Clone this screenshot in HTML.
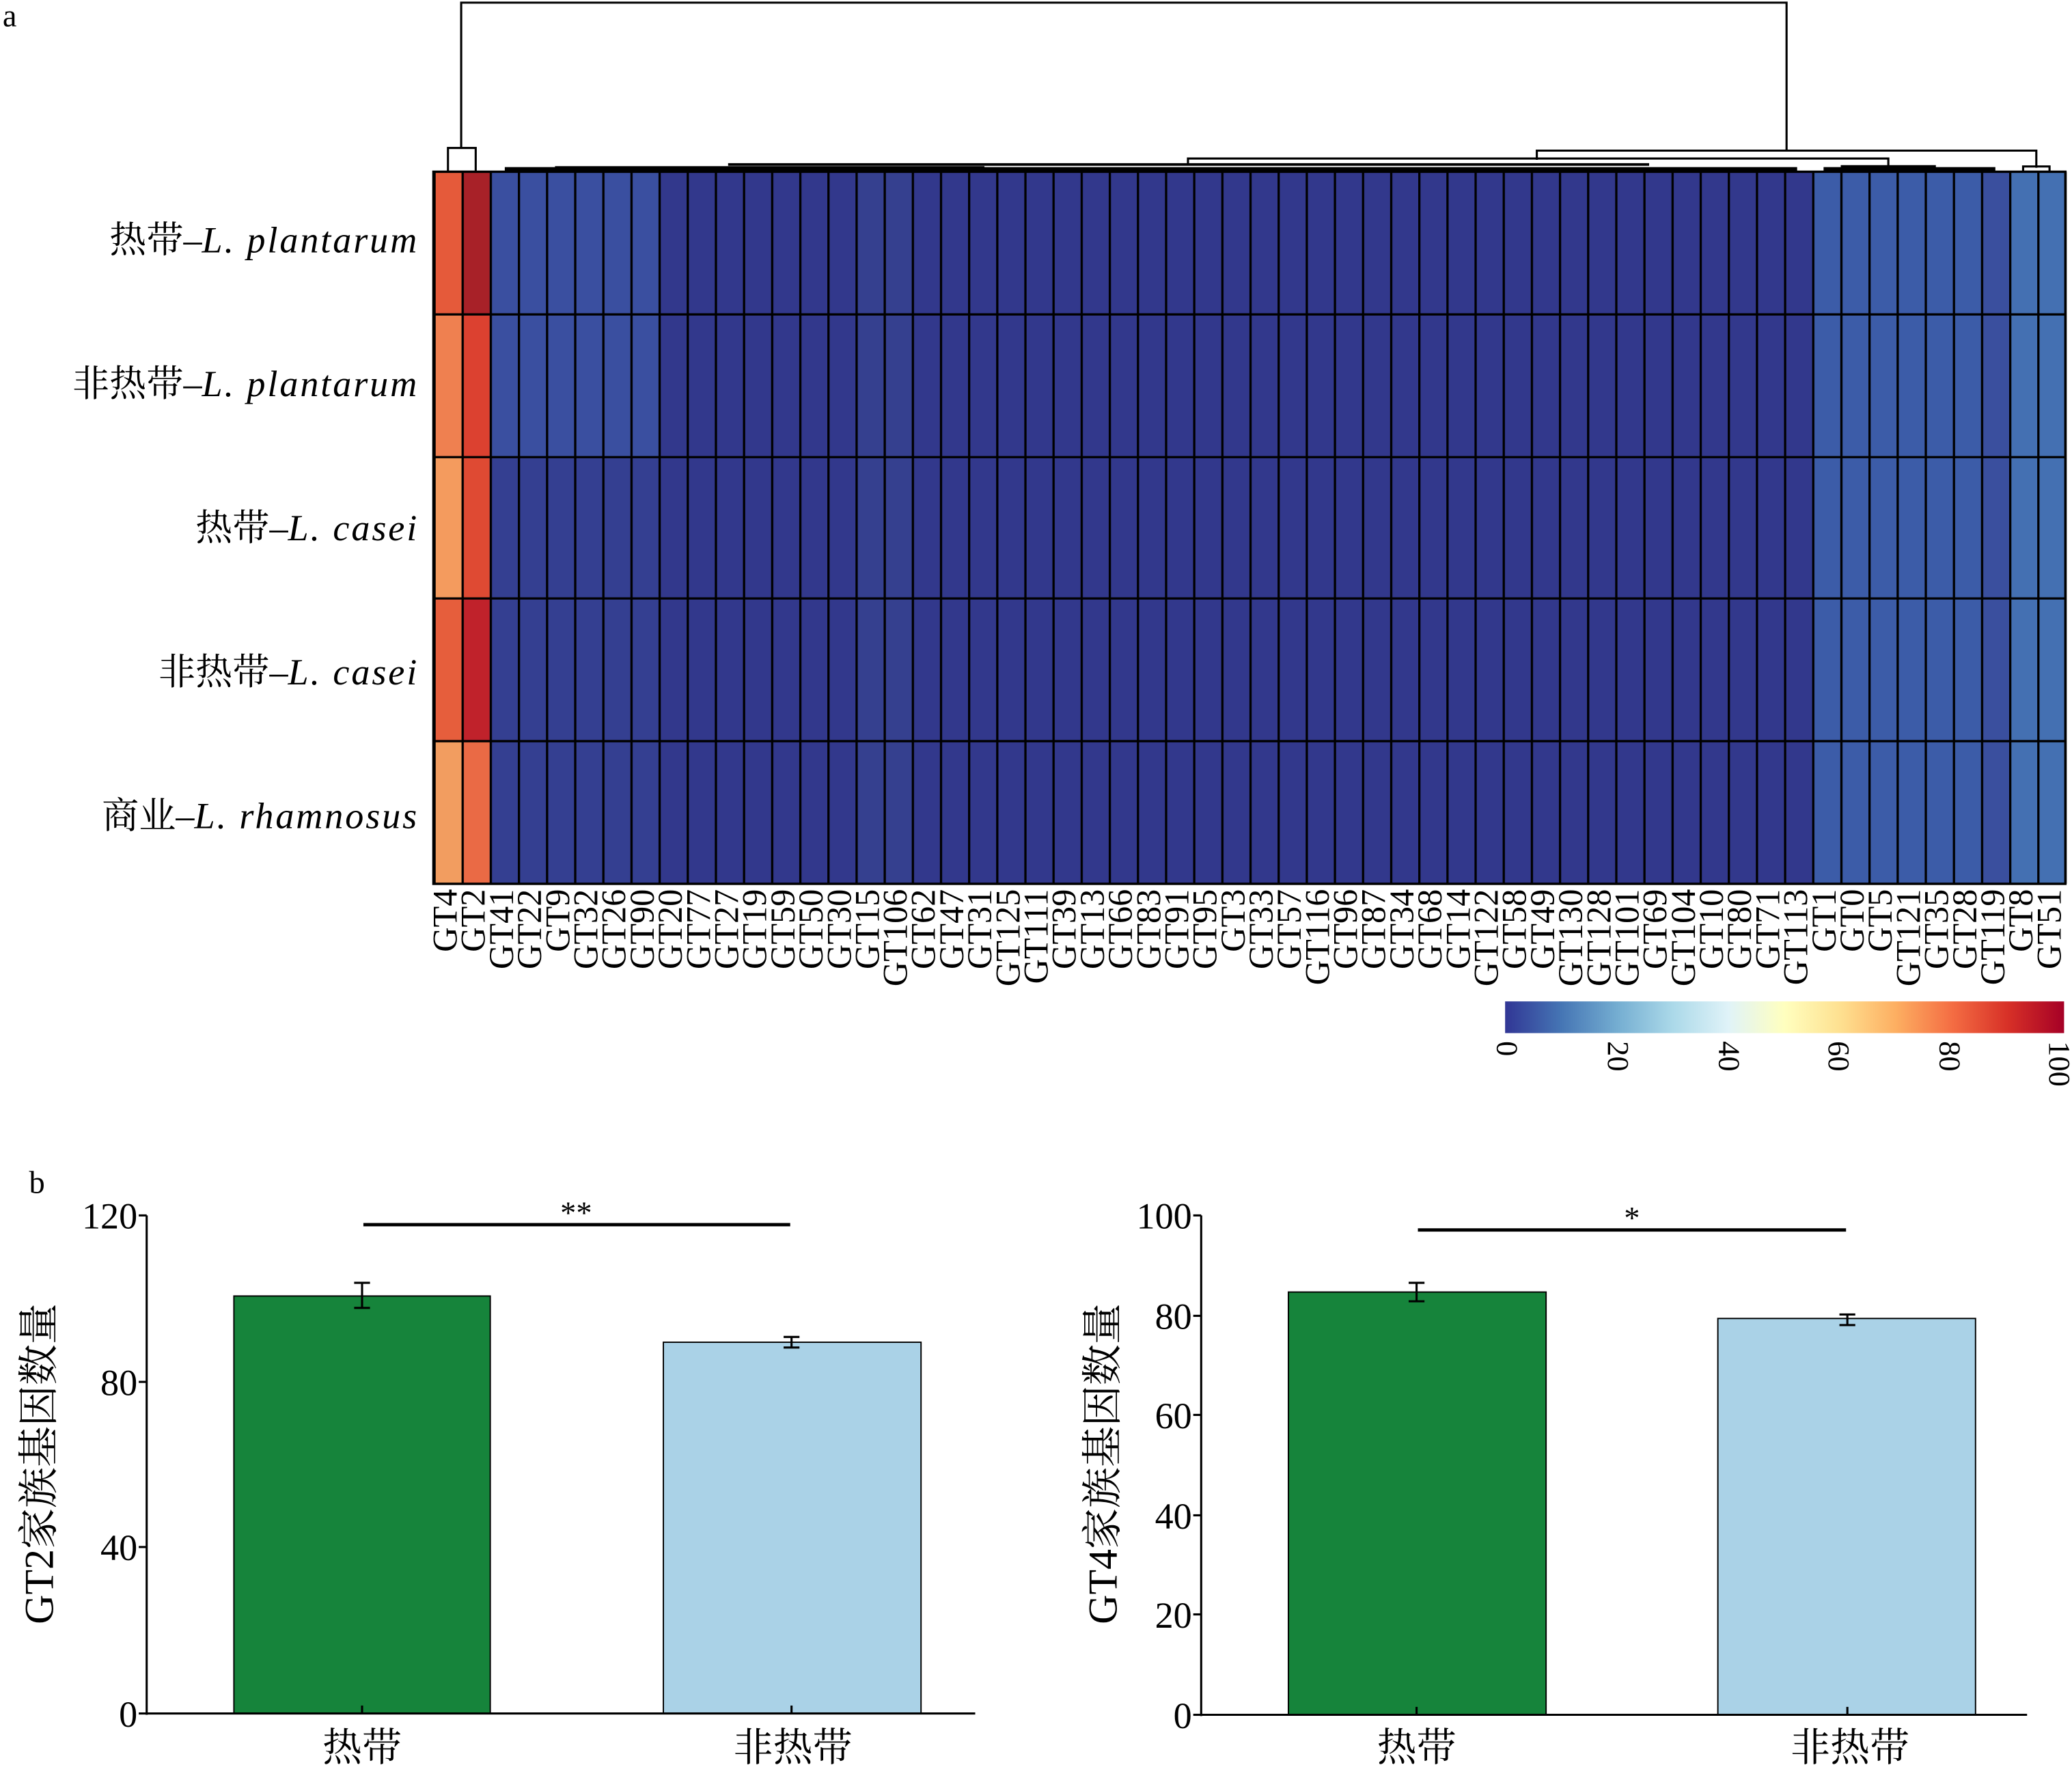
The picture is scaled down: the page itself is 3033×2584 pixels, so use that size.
<!DOCTYPE html>
<html><head><meta charset="utf-8"><style>
html,body{margin:0;padding:0;background:#fff}
svg{display:block}
text{font-family:"Liberation Serif","Noto Serif CJK SC",serif;fill:#000}
</style></head><body>
<svg width="3033" height="2584" viewBox="0 0 1568 1336" preserveAspectRatio="none" xmlns="http://www.w3.org/2000/svg">
<defs>
<linearGradient id="cb" x1="0" x2="1" y1="0" y2="0">
<stop offset="0" stop-color="#313695"/>
<stop offset="0.1" stop-color="#4575b4"/>
<stop offset="0.2" stop-color="#74add1"/>
<stop offset="0.3" stop-color="#abd9e9"/>
<stop offset="0.4" stop-color="#e0f3f8"/>
<stop offset="0.5" stop-color="#ffffbf"/>
<stop offset="0.6" stop-color="#fee090"/>
<stop offset="0.7" stop-color="#fdae61"/>
<stop offset="0.8" stop-color="#f46d43"/>
<stop offset="0.9" stop-color="#d73027"/>
<stop offset="1" stop-color="#a50026"/>
</linearGradient>
<pattern id="vl" x="328" y="0" width="21.293" height="10" patternUnits="userSpaceOnUse">
<rect x="0" y="0" width="1.7" height="10" fill="#000"/>
</pattern>
</defs>
<text x="2" y="20" font-size="24">a</text>
<text x="22" y="903" font-size="24">b</text>

<!-- dendrogram -->
<g stroke="#000" stroke-width="1.6" fill="none">
<polyline points="349,112 349,2 1352,2 1352,114"/>
<rect x="339" y="112" width="21" height="18"/>
<polyline points="1163,121 1163,114 1541,114 1541,127"/>
<polyline points="899,124 899,120 1429,120 1429,126"/>
<line x1="551" y1="124.5" x2="1248" y2="124.5" stroke-width="2"/>
<line x1="1393" y1="126" x2="1465" y2="126" stroke-width="2"/>
<rect x="1531" y="126" width="20" height="4"/>
<line x1="382" y1="128" x2="1360" y2="128" stroke-width="3"/>
<line x1="420" y1="126.5" x2="745" y2="126.5" stroke-width="1.5"/>
<line x1="1380" y1="128" x2="1510" y2="128" stroke-width="3"/>
</g>

<!-- heatmap -->
<rect x="328" y="130" width="1235" height="539" fill="#32388c"/>
<rect x="370.6" y="130" width="127.7" height="216" fill="#3a4fa0"/>
<rect x="370.6" y="346" width="127.7" height="323" fill="#343f91"/>
<rect x="647.4" y="130" width="42.6" height="539" fill="#35408f"/>
<rect x="1371.4" y="130" width="149" height="539" fill="#3c5ca8"/>
<rect x="1499.1" y="130" width="21.3" height="539" fill="#3a4f9e"/>
<rect x="1520.4" y="130" width="42.6" height="539" fill="#4470b2"/>
<rect x="328" y="130" width="21.3" height="108" fill="#e55a3a"/>
<rect x="328" y="238" width="21.3" height="108" fill="#ef8050"/>
<rect x="328" y="346" width="21.3" height="107" fill="#f49b5e"/>
<rect x="328" y="453" width="21.3" height="108" fill="#e65e3c"/>
<rect x="328" y="561" width="21.3" height="108" fill="#f29d60"/>
<rect x="349.3" y="130" width="21.3" height="108" fill="#a82128"/>
<rect x="349.3" y="238" width="21.3" height="108" fill="#dc4130"/>
<rect x="349.3" y="346" width="21.3" height="107" fill="#df4a33"/>
<rect x="349.3" y="453" width="21.3" height="108" fill="#c0222b"/>
<rect x="349.3" y="561" width="21.3" height="108" fill="#ea6a45"/>
<rect x="327" y="130" width="1237" height="539" fill="url(#vl)"/>
<g stroke="#000" stroke-width="1.7">
<line x1="328" y1="238" x2="1563" y2="238"/>
<line x1="328" y1="346" x2="1563" y2="346"/>
<line x1="328" y1="453" x2="1563" y2="453"/>
<line x1="328" y1="561" x2="1563" y2="561"/>
</g>
<rect x="328" y="130" width="1235" height="539" fill="none" stroke="#000" stroke-width="1.8"/>

<g font-size="26" text-anchor="end">
<text transform="translate(345.6,673) rotate(-90)">GT4</text>
<text transform="translate(366.9,673) rotate(-90)">GT2</text>
<text transform="translate(388.2,673) rotate(-90)">GT41</text>
<text transform="translate(409.5,673) rotate(-90)">GT22</text>
<text transform="translate(430.8,673) rotate(-90)">GT9</text>
<text transform="translate(452.1,673) rotate(-90)">GT32</text>
<text transform="translate(473.4,673) rotate(-90)">GT26</text>
<text transform="translate(494.7,673) rotate(-90)">GT90</text>
<text transform="translate(516.0,673) rotate(-90)">GT20</text>
<text transform="translate(537.3,673) rotate(-90)">GT77</text>
<text transform="translate(558.6,673) rotate(-90)">GT27</text>
<text transform="translate(579.9,673) rotate(-90)">GT19</text>
<text transform="translate(601.2,673) rotate(-90)">GT59</text>
<text transform="translate(622.5,673) rotate(-90)">GT50</text>
<text transform="translate(643.8,673) rotate(-90)">GT30</text>
<text transform="translate(665.0,673) rotate(-90)">GT15</text>
<text transform="translate(686.3,673) rotate(-90)">GT106</text>
<text transform="translate(707.6,673) rotate(-90)">GT62</text>
<text transform="translate(728.9,673) rotate(-90)">GT47</text>
<text transform="translate(750.2,673) rotate(-90)">GT31</text>
<text transform="translate(771.5,673) rotate(-90)">GT125</text>
<text transform="translate(792.8,673) rotate(-90)">GT111</text>
<text transform="translate(814.1,673) rotate(-90)">GT39</text>
<text transform="translate(835.4,673) rotate(-90)">GT13</text>
<text transform="translate(856.7,673) rotate(-90)">GT66</text>
<text transform="translate(878.0,673) rotate(-90)">GT83</text>
<text transform="translate(899.3,673) rotate(-90)">GT91</text>
<text transform="translate(920.6,673) rotate(-90)">GT95</text>
<text transform="translate(941.9,673) rotate(-90)">GT3</text>
<text transform="translate(963.2,673) rotate(-90)">GT33</text>
<text transform="translate(984.4,673) rotate(-90)">GT57</text>
<text transform="translate(1005.7,673) rotate(-90)">GT116</text>
<text transform="translate(1027.0,673) rotate(-90)">GT96</text>
<text transform="translate(1048.3,673) rotate(-90)">GT87</text>
<text transform="translate(1069.6,673) rotate(-90)">GT34</text>
<text transform="translate(1090.9,673) rotate(-90)">GT68</text>
<text transform="translate(1112.2,673) rotate(-90)">GT14</text>
<text transform="translate(1133.5,673) rotate(-90)">GT122</text>
<text transform="translate(1154.8,673) rotate(-90)">GT58</text>
<text transform="translate(1176.1,673) rotate(-90)">GT49</text>
<text transform="translate(1197.4,673) rotate(-90)">GT130</text>
<text transform="translate(1218.7,673) rotate(-90)">GT128</text>
<text transform="translate(1240.0,673) rotate(-90)">GT101</text>
<text transform="translate(1261.3,673) rotate(-90)">GT69</text>
<text transform="translate(1282.6,673) rotate(-90)">GT104</text>
<text transform="translate(1303.8,673) rotate(-90)">GT10</text>
<text transform="translate(1325.1,673) rotate(-90)">GT80</text>
<text transform="translate(1346.4,673) rotate(-90)">GT71</text>
<text transform="translate(1367.7,673) rotate(-90)">GT113</text>
<text transform="translate(1389.0,673) rotate(-90)">GT1</text>
<text transform="translate(1410.3,673) rotate(-90)">GT0</text>
<text transform="translate(1431.6,673) rotate(-90)">GT5</text>
<text transform="translate(1452.9,673) rotate(-90)">GT121</text>
<text transform="translate(1474.2,673) rotate(-90)">GT35</text>
<text transform="translate(1495.5,673) rotate(-90)">GT28</text>
<text transform="translate(1516.8,673) rotate(-90)">GT119</text>
<text transform="translate(1538.1,673) rotate(-90)">GT8</text>
<text transform="translate(1559.4,673) rotate(-90)">GT51</text>
</g>

<!-- row labels -->
<g font-size="28" text-anchor="end">
<text x="317" y="191">热带–<tspan font-style="italic" letter-spacing="1.5">L. plantarum</tspan></text>
<text x="317" y="300">非热带–<tspan font-style="italic" letter-spacing="1.5">L. plantarum</tspan></text>
<text x="317" y="409">热带–<tspan font-style="italic" letter-spacing="1.5">L. casei</tspan></text>
<text x="317" y="518">非热带–<tspan font-style="italic" letter-spacing="1.5">L. casei</tspan></text>
<text x="317" y="627">商业–<tspan font-style="italic" letter-spacing="1.5">L. rhamnosus</tspan></text>
</g>

<!-- colorbar -->
<rect x="1139" y="758" width="423" height="24" fill="url(#cb)"/>
<g font-size="23">
<text transform="translate(1133,788) rotate(90)">0</text>
<text transform="translate(1217,788) rotate(90)">20</text>
<text transform="translate(1301,788) rotate(90)">40</text>
<text transform="translate(1384,788) rotate(90)">60</text>
<text transform="translate(1468,788) rotate(90)">80</text>
<text transform="translate(1551,788) rotate(90)">100</text>
</g>

<!-- left bar chart -->
<g>
<rect x="177" y="981" width="194" height="316" fill="#16843b" stroke="#000" stroke-width="1"/>
<rect x="502" y="1016" width="195" height="281" fill="#aad2e7" stroke="#000" stroke-width="1"/>
<g stroke="#000" stroke-width="1.6" fill="none">
<line x1="111" y1="920" x2="111" y2="1298"/>
<line x1="111" y1="1297" x2="738" y2="1297"/>
<line x1="105" y1="920" x2="111" y2="920"/>
<line x1="105" y1="1046" x2="111" y2="1046"/>
<line x1="105" y1="1171" x2="111" y2="1171"/>
<line x1="105" y1="1297" x2="111" y2="1297"/>
<line x1="274" y1="1297" x2="274" y2="1291"/>
<line x1="599" y1="1297" x2="599" y2="1291"/>
<line x1="274" y1="971" x2="274" y2="990"/><line x1="268" y1="971" x2="280" y2="971"/><line x1="268" y1="990" x2="280" y2="990"/>
<line x1="599" y1="1012" x2="599" y2="1020"/><line x1="593" y1="1012" x2="605" y2="1012"/><line x1="593" y1="1020" x2="605" y2="1020"/>
<line x1="275" y1="927" x2="598" y2="927" stroke-width="2.5"/>
</g>
<text x="436" y="926" font-size="24" text-anchor="middle">**</text>
<g font-size="28" text-anchor="end">
<text x="104" y="930">120</text><text x="104" y="1056">80</text><text x="104" y="1181">40</text><text x="104" y="1307">0</text>
</g>
<g font-size="30" text-anchor="middle">
<text x="274" y="1333">热带</text><text x="600" y="1333">非热带</text>
</g>
<text transform="translate(40,1108) rotate(-90)" font-size="31" text-anchor="middle">GT2家族基因数量</text>
</g>

<!-- right bar chart -->
<g>
<rect x="975" y="978" width="195" height="320" fill="#16843b" stroke="#000" stroke-width="1"/>
<rect x="1300" y="998" width="195" height="300" fill="#aad2e7" stroke="#000" stroke-width="1"/>
<g stroke="#000" stroke-width="1.6" fill="none">
<line x1="909" y1="920" x2="909" y2="1299"/>
<line x1="909" y1="1298" x2="1534" y2="1298"/>
<line x1="903" y1="920" x2="909" y2="920"/>
<line x1="903" y1="996" x2="909" y2="996"/>
<line x1="903" y1="1071" x2="909" y2="1071"/>
<line x1="903" y1="1147" x2="909" y2="1147"/>
<line x1="903" y1="1222" x2="909" y2="1222"/>
<line x1="903" y1="1298" x2="909" y2="1298"/>
<line x1="1072" y1="1298" x2="1072" y2="1292"/>
<line x1="1398" y1="1298" x2="1398" y2="1292"/>
<line x1="1072" y1="971" x2="1072" y2="985"/><line x1="1066" y1="971" x2="1078" y2="971"/><line x1="1066" y1="985" x2="1078" y2="985"/>
<line x1="1398" y1="995" x2="1398" y2="1003"/><line x1="1392" y1="995" x2="1404" y2="995"/><line x1="1392" y1="1003" x2="1404" y2="1003"/>
<line x1="1073" y1="931" x2="1397" y2="931" stroke-width="2.5"/>
</g>
<text x="1235" y="930" font-size="24" text-anchor="middle">*</text>
<g font-size="28" text-anchor="end">
<text x="902" y="930">100</text><text x="902" y="1006">80</text><text x="902" y="1081">60</text><text x="902" y="1157">40</text><text x="902" y="1232">20</text><text x="902" y="1308">0</text>
</g>
<g font-size="30" text-anchor="middle">
<text x="1072" y="1333">热带</text><text x="1400" y="1333">非热带</text>
</g>
<text transform="translate(845,1108) rotate(-90)" font-size="31" text-anchor="middle">GT4家族基因数量</text>
</g>
</svg>
</body></html>
